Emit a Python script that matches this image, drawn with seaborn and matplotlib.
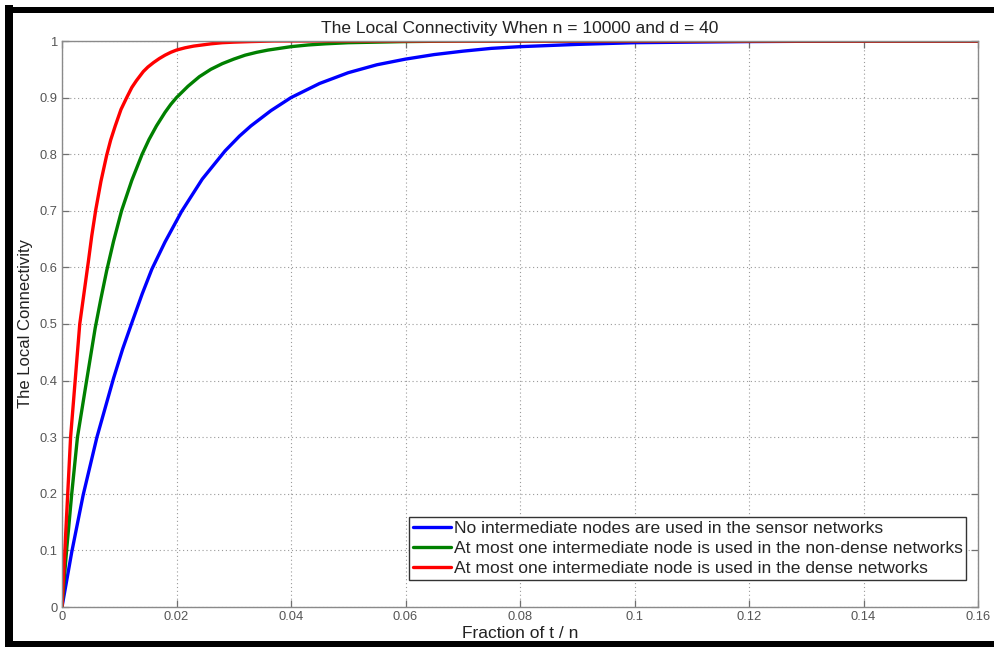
import numpy as np
import pandas as pd
import matplotlib
matplotlib.use("Agg")
import matplotlib.pyplot as plt
from matplotlib.patches import Rectangle
import seaborn as sns


# 1. DATA

title = "The Local Connectivity When n = 10000 and d = 40"
labels = [
    "No intermediate nodes are used in the sensor networks",
    "At most one intermediate node is used in the non-dense networks",
    "At most one intermediate node is used in the dense networks",
]

blue_x = [0, 0.0017, 0.0037, 0.0061, 0.009, 0.0106, 0.0123, 0.014, 0.0157, 0.018,
          0.0209, 0.0245, 0.0285, 0.031, 0.033, 0.0365, 0.040, 0.045, 0.050, 0.055,
          0.060, 0.065, 0.070, 0.075, 0.080, 0.090, 0.100, 0.110, 0.120, 0.140, 0.160]
blue_y = [0, 0.097, 0.198, 0.30, 0.404, 0.456, 0.505, 0.553, 0.597, 0.645,
          0.699, 0.756, 0.806, 0.832, 0.85, 0.877, 0.90, 0.925, 0.944, 0.958,
          0.968, 0.976, 0.982, 0.987, 0.990, 0.994, 0.997, 0.998, 0.999, 1.0, 1.0]

green_x = [0, 0.0008, 0.0017, 0.0027, 0.0043, 0.0058, 0.0068, 0.0078, 0.009, 0.0104,
           0.0122, 0.014, 0.0152, 0.0165, 0.018, 0.019, 0.020, 0.022, 0.024, 0.026,
           0.028, 0.030, 0.032, 0.034, 0.036, 0.038, 0.040, 0.043, 0.046, 0.050,
           0.055, 0.060, 0.070, 0.160]
green_y = [0, 0.10, 0.20, 0.30, 0.40, 0.493, 0.545, 0.594, 0.646, 0.70,
           0.754, 0.80, 0.826, 0.85, 0.874, 0.888, 0.90, 0.92, 0.937, 0.95,
           0.96, 0.968, 0.975, 0.980, 0.984, 0.987, 0.990, 0.993, 0.995, 0.997,
           0.998, 0.999, 1.0, 1.0]

red_x = [0, 0.0005, 0.0010, 0.0015, 0.0023, 0.0031, 0.0046, 0.0052, 0.0059, 0.0068,
         0.0078, 0.0085, 0.0093, 0.0103, 0.0113, 0.0122, 0.0130, 0.0142, 0.0150, 0.0160,
         0.0170, 0.0180, 0.0190, 0.0200, 0.0215, 0.0230, 0.0245, 0.0260, 0.0280, 0.0300,
         0.0330, 0.0370, 0.060, 0.100, 0.160]
red_y = [0, 0.10, 0.20, 0.30, 0.40, 0.50, 0.61, 0.656, 0.702, 0.752,
         0.798, 0.825, 0.85, 0.879, 0.90, 0.918, 0.93, 0.946, 0.954, 0.962,
         0.969, 0.975, 0.980, 0.984, 0.988, 0.991, 0.993, 0.995, 0.997, 0.998,
         0.999, 1.0, 1.0, 1.0, 1.0]

x_ticks = [0, 0.02, 0.04, 0.06, 0.08, 0.1, 0.12, 0.14, 0.16]
x_tick_labels = ["0", "0.02", "0.04", "0.06", "0.08", "0.1", "0.12", "0.14", "0.16"]
y_ticks = [0, 0.1, 0.2, 0.3, 0.4, 0.5, 0.6, 0.7, 0.8, 0.9, 1]
y_tick_labels = ["0", "0.1", "0.2", "0.3", "0.4", "0.5", "0.6", "0.7", "0.8", "0.9", "1"]


# 2. STYLE

sns.set_theme(style="whitegrid")
plt.rcParams['font.family'] = ['Liberation Sans', 'DejaVu Sans']

fig = plt.figure(figsize=(9.94, 6.47), dpi=100)
fig.patch.set_facecolor("white")
ax = fig.add_axes([62 / 994, 1 - 607 / 647, (978 - 62) / 994, (607 - 41) / 647])
ax.set_facecolor("white")


# 3. CURVES

series = [(blue_x, blue_y, "#0000ff"), (green_x, green_y, "#008000"), (red_x, red_y, "#ff0000")]
for (xs, ys, col), lab in zip(series, labels):
    sns.lineplot(x=xs, y=ys, ax=ax, color=col, linewidth=2.4, label=lab, sort=False)

ax.set_xlim(0, 0.16)
ax.set_ylim(0, 1)
ax.set_xticks(x_ticks)
ax.set_xticklabels(x_tick_labels)
ax.set_yticks(y_ticks)
ax.set_yticklabels(y_tick_labels)

ax.grid(True, linestyle=(0, (1, 2.5)), color="#9a9a9a", linewidth=0.8)
for s in ax.spines.values():
    s.set_visible(True)
    s.set_color("#8a8a8a")
    s.set_linewidth(1.0)
ax.tick_params(axis="both", direction="in", length=5, width=0.9, color="#707070",
               labelsize=9.3, labelcolor="#555555", top=True, right=True,
               bottom=True, left=True, pad=3)

ax.set_title(title, fontsize=12.5, color="#222222", pad=6)
ax.set_xlabel("Fraction of t / n", fontsize=12.5, color="#222222", labelpad=2)
ax.set_ylabel("The Local Connectivity", fontsize=12, color="#222222", labelpad=5)

leg = ax.legend(loc="lower right", bbox_to_anchor=(0.987, 0.048), fontsize=12.6,
                frameon=True, fancybox=False, framealpha=1, edgecolor="#333333",
                handlelength=2.2, handletextpad=0.15, borderpad=0.2,
                labelspacing=0.28, borderaxespad=0)
leg.get_frame().set_linewidth(1.0)
for line in leg.get_lines():
    line.set_linewidth(2.4)


# 4. BLACK FRAME AROUND THE SCREENSHOT

W, H = 994, 647
frame = [(5, 5, 8, 642), (5, 7, 989, 6), (5, 641, 989, 6)]
for x0, y0, w, h in frame:
    fig.patches.append(Rectangle((x0 / W, 1 - (y0 + h) / H), w / W, h / H,
                                 transform=fig.transFigure, facecolor="black",
                                 edgecolor="none", zorder=10))

fig.savefig("out.png", dpi=100)
